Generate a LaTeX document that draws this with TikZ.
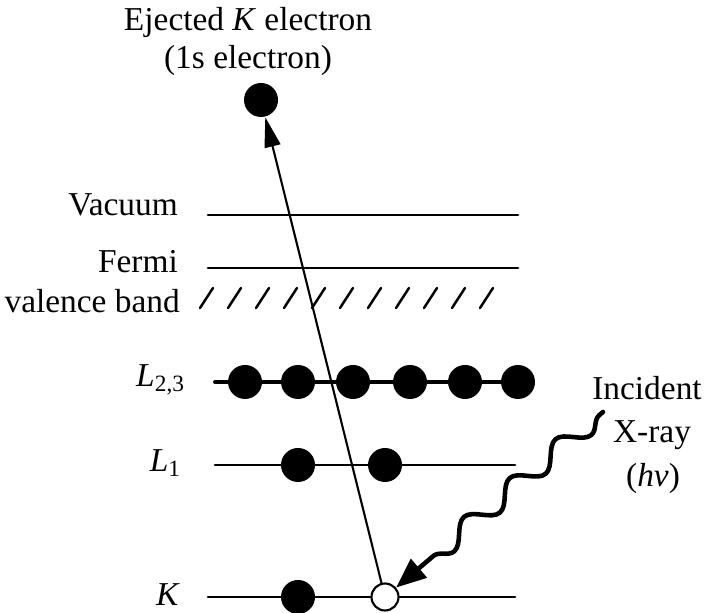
\documentclass[tikz,border=0pt]{standalone}
\usepackage{fontspec}
\setmainfont{Liberation Serif}
\usetikzlibrary{arrows.meta,decorations.pathmorphing}
\tikzset{
	electron/.style={circle, fill=black, inner sep=0pt, minimum size=0.34cm},
	hole/.style={circle, draw=black, line width=0.6pt, fill=white, inner sep=0pt, minimum size=0.27cm},
	level/.style={line width=0.8pt},
	lbl/.style={font=\fontsize{9.5}{11}\selectfont, inner sep=1pt}
}
\begin{document}
\begin{tikzpicture}[line join=round, line cap=round, scale=1]
				\useasboundingbox (0,0) rectangle (7.05,6.13);
				
				% energy levels
				\coordinate (Vl) at (2.08,3.98);
				\coordinate (Vr) at (5.18,3.98);
				\coordinate (Fl) at (2.08,3.45);
				\coordinate (Fr) at (5.18,3.45);
				\coordinate (Ll) at (2.15,2.31);
				\coordinate (Lr) at (5.28,2.31);
				\coordinate (Al) at (2.15,1.48);
				\coordinate (Ar) at (5.15,1.48);
				\coordinate (Kl) at (2.08,0.16);
				\coordinate (Kr) at (5.15,0.16);
				
				\draw[level] (Vl) -- (Vr);
				\draw[level] (Fl) -- (Fr);
				\draw[level, line width=1.1pt] (Ll) -- (Lr);
				\draw[level] (Al) -- (Ar);
				\draw[level] (Kl) -- (Kr);
				
				% valence band
				\foreach \i in {0,...,10}
					\draw[line width=0.7pt] (2.00+0.28*\i,3.05) -- ++(0.13,0.20);
				
				% electrons
				\foreach \x [count=\n] in {2.45,2.98,3.53,4.10,4.65,5.18}
					\node[electron] (l\n) at (\x,2.31) {};
				\node[electron] (a1) at (2.98,1.48) {};
				\node[electron] (a2) at (3.85,1.48) {};
				\node[electron] (k1) at (2.98,0.16) {};
				\node[hole] (H) at (3.85,0.16) {};
				\node[electron] (E) at (2.61,5.13) {};
				
				% ejected electron
				\draw[line width=0.6pt, -{Triangle[length=0.30cm, width=0.16cm]}] (H) -- (E);
				
				% incident x-ray
				\coordinate (X) at (6.03,2.01);
				\draw[line width=1.3pt, decorate,
					decoration={snake, segment length=0.6cm, amplitude=0.1cm, pre length=0.05cm, post length=0.3cm},
					-{Triangle[length=0.30cm, width=0.24cm]}] (X) -- (H);
				
				\node[lbl, left] at (1.82,4.08) {Vacuum};
				\node[lbl, left] at (1.82,3.51) {Fermi};
				\node[lbl, left] at (1.84,3.12) {valence band};
				\node[lbl, left] at (1.90,2.33) {\textit{L}\textsubscript{2,3}};
				\node[lbl, left] at (1.86,1.50) {\textit{L}\textsubscript{1}};
				\node[lbl, left] at (1.84,0.18) {\textit{K}};
				\node[lbl] at (2.48,5.91) {Ejected \textit{K} electron};
				\node[lbl] at (2.48,5.53) {(1s electron)};
				\node[lbl] at (6.47,2.25) {Incident};
				\node[lbl] at (6.52,1.78) {X-ray};
				\node[lbl] at (6.53,1.35) {(\textit{hν})};
			\end{tikzpicture}
\end{document}
